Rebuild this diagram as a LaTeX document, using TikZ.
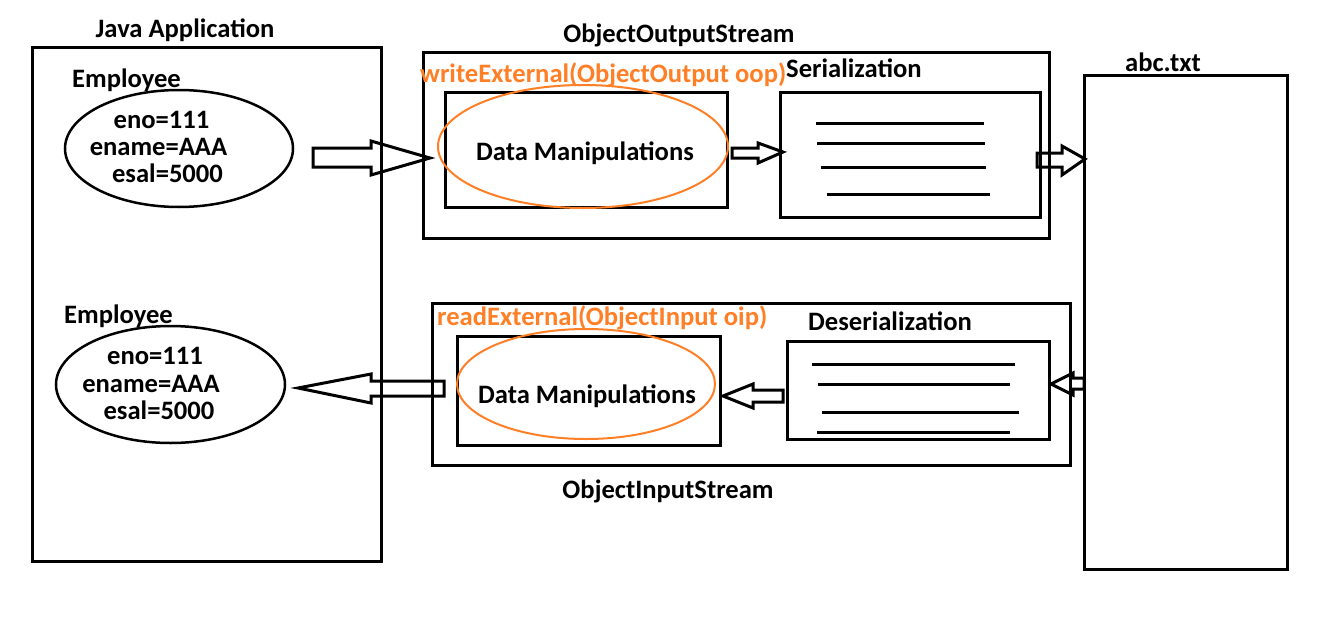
\documentclass[tikz,border=0pt]{standalone}
\usepackage{fontspec}
\setmainfont{Carlito}
\usetikzlibrary{shapes.geometric}
\definecolor{orng}{RGB}{255,127,39}
\newcommand\blkarrow[8]{\draw[arr] (#1,#4) -- (#2,#4) -- (#2,#6) -- (#3,#8) -- (#2,#7) -- (#2,#5) -- (#1,#5) -- cycle;}
\begin{document}
\begin{tikzpicture}[x=1pt,y=-1pt,
  box/.style={draw, line width=3pt, rectangle, inner sep=0pt},
  oval/.style={draw, line width=2.5pt, ellipse, inner sep=0pt},
  ooval/.style={draw=orng, line width=2pt, ellipse, inner sep=0pt},
  lbl/.style={font=\bfseries\fontsize{26.6}{30}\selectfont, inner sep=0pt},
  olbl/.style={lbl, text=orng},
  arr/.style={line width=3pt, line join=miter},
  rule/.style={line width=3pt}]
\useasboundingbox (0,0) rectangle (1327,629);
\fill[white] (0,0) rectangle (1327,629);

% boxes
\node[box, minimum width=349, minimum height=514] (japp) at (206.5,304) {};
\node[box, minimum width=626, minimum height=186] (oos) at (736,145) {};
\node[box, minimum width=282, minimum height=115] (dm1) at (586,149.5) {};
\node[box, minimum width=260, minimum height=125] (ser) at (910,154.5) {};
\node[box, minimum width=203, minimum height=494] (abc) at (1185.5,322) {};
\node[box, minimum width=638, minimum height=162] (ois) at (751,384) {};
\node[box, minimum width=263, minimum height=109] (dm2) at (588.5,390.5) {};
\node[box, minimum width=262, minimum height=98] (deser) at (918,390) {};

% ellipses
\node[oval, minimum width=228, minimum height=117] (emp1) at (179,148.5) {};
\node[oval, minimum width=229, minimum height=117] (emp2) at (170.5,384.5) {};
\node[ooval, minimum width=290, minimum height=123] (o1) at (583,146.5) {};
\node[ooval, minimum width=258, minimum height=110] (o2) at (586,384) {};

% titles
\node[lbl, anchor=base] (tjapp) at (185,37) {Java Application};
\node[lbl, anchor=base] (toos) at (679,42) {ObjectOutputStream};
\node[lbl, anchor=base] (tois) at (668,498) {ObjectInputStream};
\node[lbl, anchor=base] (tabc) at (1163,71) {abc.txt};
\node[lbl, anchor=base west] (tser) at (786,77) {Serialization};
\node[lbl, anchor=base] (tdeser) at (890,330) {Deserialization};
\node[olbl, anchor=base west] (twr) at (420,82) {writeExternal(ObjectOutput oop)};
\node[olbl, anchor=base west] (trd) at (437,325) {readExternal(ObjectInput oip)};
\node[lbl, anchor=base west] (te1) at (72,87) {Employee};
\node[lbl, anchor=base west] (te2) at (64,323) {Employee};

% ellipse contents
\node[lbl, anchor=base] (a1) at (161.5,128) {eno=111};
\node[lbl, anchor=base] (b1) at (158.5,155) {ename=AAA};
\node[lbl, anchor=base] (c1) at (167.5,182) {esal=5000};
\node[lbl, anchor=base] (a2) at (155,364) {eno=111};
\node[lbl, anchor=base] (b2) at (151,392) {ename=AAA};
\node[lbl, anchor=base] (c2) at (159,419) {esal=5000};

\node[lbl, anchor=base] (d1) at (585,160) {Data Manipulations};
\node[lbl, anchor=base] (d2) at (587,403) {Data Manipulations};

% serialized lines
\draw[rule] (816,123) -- (984,123);
\draw[rule] (817,143) -- (985,143);
\draw[rule] (821,167) -- (986,167);
\draw[rule] (827,194) -- (990,194);
\draw[rule] (812,364) -- (1015,364);
\draw[rule] (818,384) -- (1010,384);
\draw[rule] (822,412) -- (1019,412);
\draw[rule] (817,432) -- (1010,432);

% block arrows: x1 xb xtip ys1 ys2 yh1 yh2 ytip
\blkarrow{313}{371}{430}{148}{167}{141}{175}{158}
\blkarrow{732}{758}{783}{148}{158}{143}{163}{152}
\blkarrow{1037}{1062}{1085}{153}{167}{146}{175}{159}
\blkarrow{783}{753}{723}{390}{402}{384}{408}{396}
\blkarrow{1084}{1073}{1051}{378}{389}{373}{395}{384}
\blkarrow{444}{371}{298}{381}{396}{374}{403}{388}
\end{tikzpicture}
\end{document}
